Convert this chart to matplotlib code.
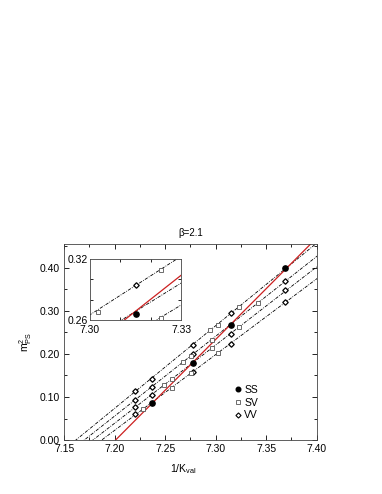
import numpy as np
import matplotlib
matplotlib.use("Agg")
import matplotlib.pyplot as plt
from matplotlib.ticker import MultipleLocator, FixedLocator

plt.rcParams["font.family"] = ["Liberation Sans", "DejaVu Sans"]
plt.rcParams["mathtext.fontset"] = "custom"
plt.rcParams["mathtext.rm"] = "Liberation Sans"
plt.rcParams["mathtext.it"] = "Liberation Sans:italic"

# valence 1/K values (K = 0.1385, 0.1382, 0.1374, 0.1367, 0.1357)
inv_k = [7.220, 7.2365, 7.2777, 7.315, 7.369]
# sea 1/K for each dash-dot line (index into inv_k)
sea_idx = [4, 3, 2, 1]

# VV points (m_PS^2) for each sea line, in order of inv_k
vv = [
    [0.114, 0.1426, 0.221, 0.294, 0.398],
    [0.094, 0.123, 0.200, 0.266, 0.370],
    [0.077, 0.1056, 0.179, 0.245, 0.3475],
    [0.060, 0.0865, 0.157, 0.2236, 0.321],
]
sv_y = [
    [0.255, 0.268, 0.309, None, None],
    [0.180, 0.195, 0.233, None, 0.318],
    [0.128, 0.141, None, 0.213, 0.262],
    [0.072, None, 0.120, 0.155, 0.201],
]


def draw(ax):
    xs = np.linspace(7.14, 7.41, 200)
    ss_x, ss_y = [], []
    for line, s in enumerate(sea_idx):
        x = np.array(inv_k)
        y = np.array(vv[line])
        a, b = np.polyfit(x, y, 1)
        ax.plot(xs, a * xs + b, color="black", lw=0.6,
                ls=(0, (4, 1.5, 1, 1.5)), zorder=1)
        mask = np.arange(len(inv_k)) != s
        ax.plot(x[mask], y[mask], ls="none", marker="D", ms=2.8,
                mfc="white", mec="black", mew=0.9, zorder=3)
        ss_x.append(inv_k[s])
        ss_y.append(vv[line][s])
        for j, val in enumerate(sv_y[line]):
            if val is None:
                continue
            xm = 0.5 * (inv_k[s] + inv_k[j])
            ax.plot(xm, val, ls="none", marker="s", ms=3.3,
                    mfc="white", mec="#555555", mew=0.6, zorder=3)
    a, b = np.polyfit(ss_x, ss_y, 1)
    ax.plot(xs, a * xs + b, color="#cc2020", lw=0.9, zorder=2)
    ax.plot(ss_x, ss_y, ls="none", marker="o", ms=3.8,
            color="black", zorder=4)


fig = plt.figure(figsize=(3.82, 4.94), dpi=100)
ax = fig.add_axes([0.168, 0.109, 0.661, 0.3965])
draw(ax)
ax.set_xlim(7.15, 7.40)
ax.set_ylim(0.0, 0.454)
ax.xaxis.set_major_locator(MultipleLocator(0.05))
ax.xaxis.set_minor_locator(MultipleLocator(0.025))
ax.yaxis.set_major_locator(FixedLocator([0.0, 0.1, 0.2, 0.3, 0.4]))
ax.yaxis.set_minor_locator(MultipleLocator(0.05))
ax.xaxis.set_major_formatter(plt.FuncFormatter(lambda v, p: f"{v:.2f}"))
ax.yaxis.set_major_formatter(plt.FuncFormatter(lambda v, p: f"{v:.2f}"))
ax.tick_params(which="both", direction="in", top=True, right=True,
               labelsize=7.5, width=0.6)
ax.tick_params(axis="x", pad=2.5)
ax.tick_params(axis="y", pad=3)
ax.tick_params(which="major", length=3.5)
ax.tick_params(which="minor", length=2)
ax.get_yticklabels()[0].set_verticalalignment("center_baseline")
for sp in ax.spines.values():
    sp.set_linewidth(0.6)
    sp.set_color("#444444")
ax.set_title("\u03b2=2.1", fontsize=7, pad=6)
ax.set_xlabel(r"1/K$_{\rm val}$", fontsize=7.5, labelpad=6, x=0.47)
ax.set_ylabel(r"m$_{\rm PS}^2$", fontsize=7.5, labelpad=4)

# legend
h1, = ax.plot([], [], ls="none", marker="o", ms=3.3, color="black")
h2, = ax.plot([], [], ls="none", marker="s", ms=2.8, mfc="white", mec="#555555", mew=0.6)
h3, = ax.plot([], [], ls="none", marker="D", ms=2.6, mfc="white", mec="black", mew=0.8)
ax.legend([h1, h2, h3], ["SS", "SV", "VV"], loc="lower left",
          bbox_to_anchor=(0.655, 0.075), frameon=False, fontsize=7.5,
          handlelength=0.6, handletextpad=0.3, labelspacing=0.25, borderpad=0)

# inset
ins = fig.add_axes([0.2356, 0.352, 0.2384, 0.1237])
draw(ins)
ins.set_xlim(7.30, 7.33)
ins.set_ylim(0.26, 0.32)
ins.xaxis.set_major_locator(FixedLocator([7.30, 7.33]))
ins.xaxis.set_minor_locator(FixedLocator([7.31, 7.32]))
ins.yaxis.set_major_locator(FixedLocator([0.26, 0.32]))
ins.yaxis.set_minor_locator(FixedLocator([0.28, 0.30]))
ins.xaxis.set_major_formatter(plt.FuncFormatter(lambda v, p: f"{v:.2f}"))
ins.yaxis.set_major_formatter(plt.FuncFormatter(lambda v, p: f"{v:.2f}"))
ins.tick_params(which="both", direction="in", top=True, right=True,
                labelsize=7.5, width=0.6)
ins.tick_params(axis="x", pad=3.5)
ins.tick_params(axis="y", pad=1.5)
ins.tick_params(which="major", length=0)
ins.tick_params(which="minor", length=2.5)
for sp in ins.spines.values():
    sp.set_linewidth(0.6)
    sp.set_color("#444444")

fig.savefig("out.png", dpi=100)
